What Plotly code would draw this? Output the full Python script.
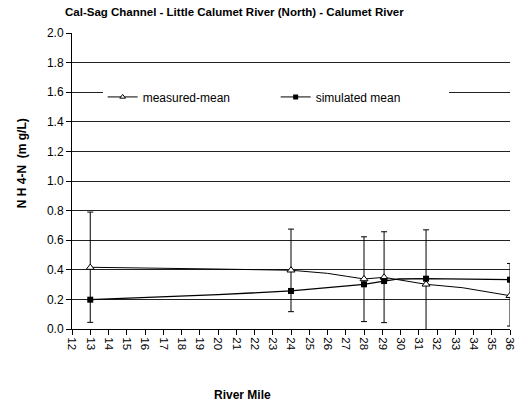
import plotly.graph_objects as go

# Measurement locations (river mile) and values
mile = [13, 24, 28, 29.1, 31.4, 36]
measured_mean = [0.415, 0.397, 0.338, 0.349, 0.302, 0.225]
err_plus = [0.375, 0.278, 0.285, 0.308, 0.368, 0.218]
err_minus = [0.37, 0.28, 0.288, 0.306, 0.37, 0.205]
simulated_mean = [0.198, 0.257, 0.302, 0.324, 0.340, 0.333]

# Profile lines
meas_line_mile = [13, 15.5, 19.5, 20, 24, 26, 27.05, 28, 29.1, 31.4, 33.4, 36]
meas_line_val = [0.417, 0.414, 0.407, 0.405, 0.397, 0.376, 0.356, 0.338, 0.349, 0.302, 0.279, 0.225]
sim_line_mile = [13, 19.5, 20, 24, 27.05, 27.6, 28, 29.1, 29.9, 31.4, 36]
sim_line_val = [0.198, 0.225, 0.232, 0.257, 0.29, 0.297, 0.302, 0.324, 0.338, 0.340, 0.333]

y_ticks = [0.0, 0.2, 0.4, 0.6, 0.8, 1.0, 1.2, 1.4, 1.6, 1.8, 2.0]
x_ticks = list(range(12, 37))

FONT = "Liberation Sans Narrow, Arial Narrow, Liberation Sans, Arial, sans-serif"

fig = go.Figure()

fig.add_trace(go.Scatter(x=meas_line_mile, y=meas_line_val, mode="lines",
                         line=dict(color="black", width=1), showlegend=False,
                         hoverinfo="skip"))
fig.add_trace(go.Scatter(x=sim_line_mile, y=sim_line_val, mode="lines",
                         line=dict(color="black", width=1.3), showlegend=False,
                         hoverinfo="skip"))

fig.add_trace(go.Scatter(x=mile, y=measured_mean, mode="markers", showlegend=False,
                         marker=dict(symbol="triangle-up", size=7, color="white",
                                     line=dict(color="black", width=1)),
                         error_y=dict(type="data", array=err_plus, arrayminus=err_minus,
                                      color="black", thickness=1, width=3)))
fig.add_trace(go.Scatter(x=mile, y=simulated_mean, mode="markers", showlegend=False,
                         marker=dict(symbol="square", size=6, color="black")))

# legend entries
fig.add_trace(go.Scatter(x=[None], y=[None], mode="lines+markers", name="measured-mean",
                         line=dict(color="black", width=1),
                         marker=dict(symbol="triangle-up", size=5, color="white",
                                     line=dict(color="black", width=1))))
fig.add_trace(go.Scatter(x=[None], y=[None], mode="lines+markers", name="simulated mean",
                         line=dict(color="black", width=1),
                         marker=dict(symbol="square", size=5, color="black")))

fig.update_layout(
    width=517, height=408,
    margin=dict(l=72, r=7, t=33, b=79),
    paper_bgcolor="white", plot_bgcolor="white",
    font=dict(family=FONT, size=12, color="black"),
    showlegend=True,
    legend=dict(orientation="h", x=0.07, y=0.784, xanchor="left", yanchor="middle",
                bgcolor="white", borderwidth=0, font=dict(size=12),
                itemwidth=30, entrywidth=128, tracegroupgap=0),
    xaxis=dict(range=[12, 36], tickmode="array", tickvals=x_ticks,
               ticktext=[str(v) for v in x_ticks], tickangle=90, automargin=False,
               ticklabeloverflow="allow",
               showgrid=False, zeroline=False, showline=True, linecolor="black",
               linewidth=1, ticks="outside", ticklen=5, tickcolor="black",
               tickfont=dict(size=11.5)),
    yaxis=dict(range=[0, 2], tickmode="array", tickvals=y_ticks, automargin=False,
               ticktext=[f"{v:.1f}" for v in y_ticks],
               showgrid=True, gridcolor="#222", gridwidth=1, zeroline=False,
               showline=True, linecolor="black", linewidth=1,
               ticks="outside", ticklen=5, tickcolor="black", tickfont=dict(size=12)),
)

fig.add_annotation(text="<b>Cal-Sag Channel - Little Calumet River (North) - Calumet River</b>",
                   xref="paper", yref="paper", x=0.37, y=1.0, yshift=21,
                   xanchor="center", yanchor="middle", showarrow=False,
                   font=dict(size=11.5, family=FONT))
fig.add_annotation(text="<b>N H 4-N  (m g/L)</b>", textangle=-90,
                   xref="paper", yref="paper", x=0, xshift=-50, y=0.56,
                   xanchor="center", yanchor="middle", showarrow=False,
                   font=dict(size=12, family=FONT))
fig.add_annotation(text="<b>River Mile</b>",
                   xref="paper", yref="paper", x=0.39, y=0, yshift=-66,
                   xanchor="center", yanchor="middle", showarrow=False,
                   font=dict(size=12, family=FONT))

fig.write_html("out.html", config={"displayModeBar": False},
               post_script="document.body.style.margin='0';document.body.style.padding='0';")
